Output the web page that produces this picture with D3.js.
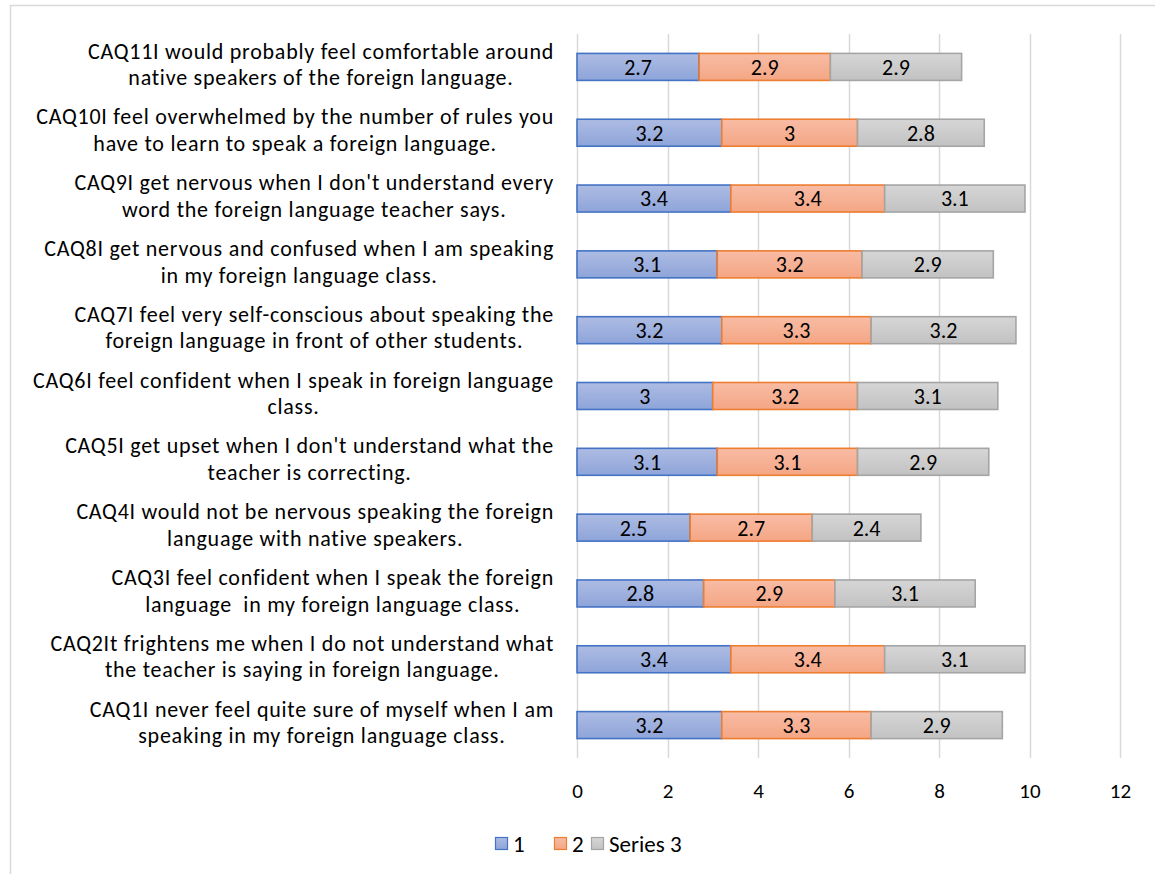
<!DOCTYPE html>
<html>
<head>
<meta charset="utf-8">
<script src="https://cdn.jsdelivr.net/npm/d3@7"></script>
<style>
  html, body { margin: 0; padding: 0; background: #fff; }
  svg { display: block; }
  text { font-family: Carlito, Calibri, Lato, "Open Sans", sans-serif; fill: #000; }
</style>
</head>
<body>
<svg id="chart" width="1155" height="874"></svg>
<script>
// Statement labels, bottom (CAQ1) to top (CAQ11), each split into its two lines
const categories = [
  ["CAQ1I never feel quite sure of myself when I am", "speaking in my foreign language class."],
  ["CAQ2It frightens me when I do not understand what", "the teacher is saying in foreign language."],
  ["CAQ3I feel confident when I speak the foreign", "language  in my foreign language class."],
  ["CAQ4I would not be nervous speaking the foreign", "language with native speakers."],
  ["CAQ5I get upset when I don't understand what the", "teacher is correcting."],
  ["CAQ6I feel confident when I speak in foreign language", "class."],
  ["CAQ7I feel very self-conscious about speaking the", "foreign language in front of other students."],
  ["CAQ8I get nervous and confused when I am speaking", "in my foreign language class."],
  ["CAQ9I get nervous when I don't understand every", "word the foreign language teacher says."],
  ["CAQ10I feel overwhelmed by the number of rules you", "have to learn to speak a foreign language."],
  ["CAQ11I would probably feel comfortable around", "native speakers of the foreign language."]
];

const seriesNames = ["1", "2", "Series 3"];
const series1 = [3.2, 3.4, 2.8, 2.5, 3.1, 3.0, 3.2, 3.1, 3.4, 3.2, 2.7];
const series2 = [3.3, 3.4, 2.9, 2.7, 3.1, 3.2, 3.3, 3.2, 3.4, 3.0, 2.9];
const series3 = [2.9, 3.1, 3.1, 2.4, 2.9, 3.1, 3.2, 2.9, 3.1, 2.8, 2.9];
const xTicks = [0, 2, 4, 6, 8, 10, 12];

const palette = [
  { top: "#adbce3", bottom: "#8ea4d9", stroke: "#4472c4" },
  { top: "#f8bca5", bottom: "#f4a684", stroke: "#ed7d31" },
  { top: "#d6d6d6", bottom: "#c2c2c2", stroke: "#a5a5a5" }
];

const svg = d3.select("#chart");
const W = 1155, H = 874;

// outer chart frame
svg.append("rect")
  .attr("x", 10.5).attr("y", 5.5)
  .attr("width", W + 10).attr("height", H + 10)
  .attr("fill", "#fff").attr("stroke", "#d9d9d9").attr("stroke-width", 1.5);

const plot = { left: 577, right: 1120, top: 34, bottom: 758 };

const x = d3.scaleLinear().domain([0, 12]).range([plot.left, plot.right]);
const idx = d3.range(categories.length).reverse(); // CAQ11 at top
const y = d3.scaleBand().domain(idx).range([plot.top, plot.bottom]).paddingInner(0.59).paddingOuter(0.295);

// vertical gradients for each series
const defs = svg.append("defs");
palette.forEach((p, i) => {
  const g = defs.append("linearGradient").attr("id", "grad" + i)
    .attr("x1", 0).attr("y1", 0).attr("x2", 0).attr("y2", 1);
  g.append("stop").attr("offset", "0%").attr("stop-color", p.top);
  g.append("stop").attr("offset", "100%").attr("stop-color", p.bottom);
});

// gridlines
svg.append("g")
  .selectAll("line").data(xTicks).join("line")
  .attr("x1", d => Math.round(x(d)) + 0.5).attr("x2", d => Math.round(x(d)) + 0.5)
  .attr("y1", plot.top).attr("y2", plot.bottom)
  .attr("stroke", "#d9d9d9").attr("stroke-width", 1.5);

// x axis tick labels
const xAxis = d3.axisBottom(x).tickValues(xTicks).tickSize(0).tickPadding(0);
const xg = svg.append("g").attr("transform", `translate(0,${plot.bottom + 32})`).call(xAxis);
xg.select(".domain").remove();
xg.selectAll("text").attr("font-size", 21).attr("dy", "0.36em").style("font-family", null);

// stacked bars
const data = categories.map((c, i) => ({ i, values: [series1[i], series2[i], series3[i]] }));
const stack = d3.stack().keys([0, 1, 2]).value((d, k) => d.values[k]);
const layers = stack(data);

const barG = svg.append("g");
layers.forEach((layer, s) => {
  const g = barG.append("g");
  g.selectAll("rect").data(layer).join("rect")
    .attr("x", d => x(d[0]))
    .attr("y", d => y(d.data.i))
    .attr("width", d => x(d[1]) - x(d[0]))
    .attr("height", y.bandwidth())
    .attr("fill", `url(#grad${s})`)
    .attr("stroke", palette[s].stroke)
    .attr("stroke-width", 1.6);
  g.selectAll("text").data(layer).join("text")
    .attr("x", d => (x(d[0]) + x(d[1])) / 2)
    .attr("y", d => y(d.data.i) + y.bandwidth() / 2)
    .attr("dy", "0.36em")
    .attr("text-anchor", "middle")
    .attr("font-size", 22)
    .text(d => d.data.values[s]);
});

// category labels: two centred lines, block right-aligned against the plot
const labelRight = 554;
const labG = svg.append("g");
categories.forEach((lines, i) => {
  const cy = y(i) + y.bandwidth() / 2 - 3;
  const t = labG.append("text").attr("font-size", 22).attr("letter-spacing", 0.75)
    .attr("text-anchor", "middle");
  const spans = lines.map((ln, k) => t.append("tspan")
    .attr("y", cy + (k - 0.5) * 26.5)
    .attr("dy", "0.36em")
    .style("white-space", "pre")
    .text(ln));
  const maxW = d3.max(spans, sp => sp.node().getComputedTextLength());
  spans.forEach(sp => sp.attr("x", labelRight - maxW / 2));
});

// legend
const legend = svg.append("g").attr("transform", "translate(0,844)");
const legendX = [495, 554, 591];
seriesNames.forEach((name, s) => {
  const item = legend.append("g").attr("transform", `translate(${legendX[s]},0)`);
  item.append("rect").attr("x", 0.5).attr("y", -6.5).attr("width", 12).attr("height", 12)
    .attr("fill", `url(#grad${s})`).attr("stroke", palette[s].stroke).attr("stroke-width", 1.2);
  item.append("text").attr("x", 18).attr("y", 0).attr("dy", "0.36em")
    .attr("font-size", 23).text(name);
});
</script>
</body>
</html>
